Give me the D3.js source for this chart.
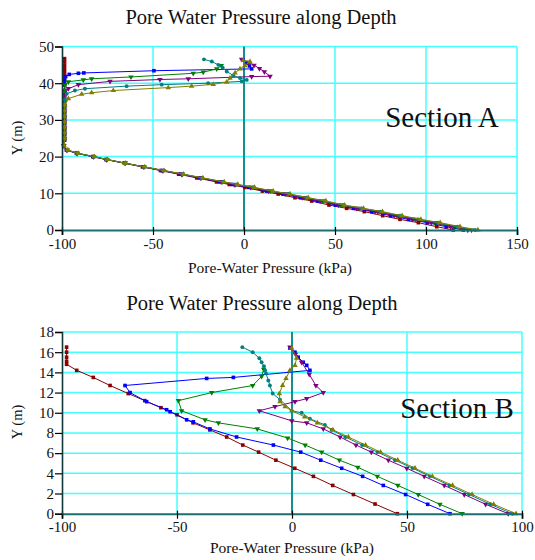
<!DOCTYPE html>
<html><head><meta charset="utf-8">
<script src="https://cdn.jsdelivr.net/npm/d3@7"></script>
<style>
body{margin:0;background:#fff}
text{font-family:"Liberation Serif","Times New Roman",serif;fill:#111}
</style>
</head><body>
<svg id="c" width="535" height="560"></svg>
<script>
// ---------------- DATA ----------------
const chartTitle = "Pore Water Pressure along Depth";
const xLabel = "Pore-Water Pressure (kPa)";
const yLabel = "Y (m)";
const seriesNames = ["S1","S2","S3","S4","S5","S6"];
const seriesColors = ["#8B0000","#0000FF","#008000","#800080","#008080","#808000"];
const seriesSymbols = ["square","square","triDown","triDown","circle","triUp"];

// Section A
const xTicksA = [-100,-50,0,50,100,150];
const yTicksA = [0,10,20,30,40,50];
const redA = [[-98.6,46.7],[-98.6,45.8],[-98.6,44.9],[-98.6,44],[-98.6,43.1],[-98.6,42.2],[-98.6,41.3],[-98.6,40.4],[-98.6,39.5],[-98.6,38],[-98.6,36.5],[-98.6,35],[-98.6,33.5],[-98.6,32],[-98.6,30.5],[-98.6,29],[-98.6,27.5],[-98.6,26],[-98.6,24.5],
 [-99,23],[-97.5,21.8],[-92,20.9],[-83,20],[-75.7,19.2],[-65.7,18.2],[-55.8,17.2],[-45.9,16.2],[-35.9,15.2],[-26,14.2],[-15.1,13.1],[-8.1,12.4],[0.5,11.6],[10.1,10.6],[18.8,9.8],[28,8.8],[37.2,7.9],[46.7,6.8],[56.4,5.9],[66.1,5.0],[76.2,3.9],[85.7,2.9],[95.8,2.0],[105.9,0.9],[115,0]];
const blueA = [[-0.5,46.3],[1.5,45.5],[3,44.7],[4.2,43.9],[-49.5,43.4],[-88,42.8],[-91,42.7],[-96,42.4],[-98,41.8],[-98.6,40.8],[-98.6,39.5],[-98.6,38],[-98.6,36.5],[-98.6,35],[-98.6,33.5],[-98.6,32],[-98.6,30.5],[-98.6,29],[-98.6,27.5],[-98.6,26],[-98.6,24.5],
 [-99,23],[-97.5,21.8],[-92,20.9],[-83,20],[-75.7,19.2],[-65.5,18.2],[-55.3,17.2],[-45.1,16.2],[-34.8,15.2],[-24.6,14.2],[-13.4,13.1],[-6.2,12.4],[2.6,11.6],[12.5,10.6],[21.4,9.8],[31,8.8],[40.4,7.9],[50.2,6.8],[60.2,5.9],[70.2,5.0],[80.5,3.9],[90.4,2.9],[100.7,2.0],[111.1,0.9],[120.5,0]];
const greenA = [[-12.5,44.8],[-15,43.9],[-22.4,43.0],[-27.9,42.7],[-62.1,41.7],[-83.7,41.2],[-88.3,40.9],[-96.5,40.4],[-98.4,39.5],[-98.6,38],[-98.6,36.5],[-98.6,35],[-98.6,33.5],[-98.6,32],[-98.6,30.5],[-98.6,29],[-98.6,27.5],[-98.6,26],[-98.6,24.5],
 [-99,23],[-97.2,21.8],[-91.6,20.9],[-82.6,20],[-75.3,19.2],[-65.3,18.2],[-54.9,17.2],[-44.4,16.2],[-33.9,15.2],[-23.5,14.2],[-12,13.1],[-4.6,12.4],[4.4,11.6],[14.5,10.6],[23.6,9.8],[33.4,8.8],[43,7.9],[53.1,6.8],[63.3,5.9],[73.5,5.0],[84.1,3.9],[94.2,2.9],[104.7,2.0],[115.4,0.9],[125,0]];
const purpleA = [[-1.3,46.5],[2.5,45.7],[5.5,44.9],[8.5,44.0],[11.2,43.1],[14.3,41.9],[4.2,41.8],[-30.6,41.2],[-46.2,41.0],[-73.6,40.5],[-91,39.6],[-96.5,38.5],[-98.6,37],[-98.6,35.5],[-98.6,34],[-98.6,32.5],[-98.6,31],[-98.6,29.5],[-98.6,28],[-98.6,26.5],[-98.6,25],
 [-99,23],[-97.3,21.8],[-91.8,20.9],[-82.8,20],[-75.5,19.2],[-65.4,18.2],[-55.1,17.2],[-44.7,16.2],[-34.3,15.2],[-24,14.2],[-12.6,13.1],[-5.3,12.4],[3.6,11.6],[13.6,10.6],[22.6,9.8],[32.3,8.8],[41.8,7.9],[51.8,6.8],[61.9,5.9],[72,5.0],[82.5,3.9],[92.5,2.9],[102.9,2.0],[113.5,0.9],[123,0]];
const tealA = [[-22,46.5],[-17.7,45.9],[-14.1,45.0],[-11.7,44.2],[-9.5,43.2],[-5.9,42.1],[-2.2,41.4],[1.5,40.9],[-1.3,40.5],[-19.7,40.0],[-45.2,39.6],[-64.5,39.2],[-87.4,38.5],[-92.9,38.0],[-97.4,37.1],[-98.6,35.5],[-98.6,34],[-98.6,32.5],[-98.6,31],[-98.6,29.5],[-98.6,28],[-98.6,26.5],[-98.6,25],
 [-99,23],[-97,21.8],[-91.4,20.9],[-82.4,20],[-75.1,19.2],[-65.2,18.2],[-54.7,17.2],[-44.1,16.2],[-33.5,15.2],[-23,14.2],[-11.4,13.1],[-3.9,12.4],[5.2,11.6],[15.4,10.6],[24.6,9.8],[34.5,8.8],[44.2,7.9],[54.4,6.8],[64.7,5.9],[75,5.0],[85.7,3.9],[95.9,2.9],[106.5,2.0],[117.3,0.9],[127,0]];
const oliveA = [[-0.4,46.2],[3.3,45.9],[0.5,44.8],[-2.2,43.9],[-4.9,42.8],[-7.7,41.4],[-9.5,40.3],[-16.9,39.7],[-28.8,39.2],[-41.6,38.8],[-71.8,38.0],[-83.7,37.4],[-89.2,37.0],[-96.5,35.8],[-98.4,34.0],[-98.6,32.5],[-98.6,31],[-98.6,29.5],[-98.6,28],[-98.6,26.5],[-98.6,25],
 [-98.8,23],[-96.8,21.8],[-91.2,20.9],[-82.2,20],[-75,19.2],[-65.2,18.2],[-54.6,17.2],[-43.9,16.2],[-33.2,15.2],[-22.6,14.2],[-10.9,13.1],[-3.4,12.4],[5.8,11.6],[16,10.6],[25.3,9.8],[35.3,8.8],[45,7.9],[55.3,6.8],[65.7,5.9],[76.1,5.0],[86.9,3.9],[97.2,2.9],[107.8,2.0],[118.7,0.9],[128.5,0]];

// Section B
const xTicksB = [-100,-50,0,50,100];
const yTicksB = [0,2,4,6,8,10,12,14,16,18];
const redB = [[-98,16.5],[-98,16.0],[-98,15.5],[-98,15.1],[-98,14.8],[-93.6,14.2],[-86.4,13.5],[-79.1,12.7],[-71.2,11.9],[-64,11.2],[-57,10.5],[-50,9.8],[-43,9.0],[-35.7,8.3],[-28.4,7.6],[-21.4,6.8],[-14.5,6.1],[-7,5.3],[1.2,4.5],[9.3,3.7],[17.7,2.8],[26.7,1.9],[36.1,0.96],[45.8,0]];
const blueB = [[-0.9,16.4],[1.3,16.0],[2.7,15.5],[4.9,15.0],[6.4,14.7],[7.8,14.2],[-25.5,13.5],[-37.1,13.4],[-72.6,12.7],[-70.4,12.0],[-63.2,11.1],[-54.5,10.3],[-53,10.1],[-45.8,9.3],[-42.9,9.1],[-35.7,8.4],[-24.1,7.6],[-8.1,6.8],[3.8,6.1],[12.5,5.3],[21.6,4.5],[30.7,3.7],[39.7,2.8],[49.4,1.9],[59,0.93],[68.7,0]];
const greenB = [[-12.3,14.3],[-13.2,13.6],[-17.1,12.7],[-34.9,12.0],[-49.4,11.2],[-48,10.2],[-37.8,9.3],[-32,9.0],[-15.1,8.4],[-1.9,7.5],[5.7,6.8],[12.9,6.1],[20.6,5.3],[28.6,4.6],[37.1,3.7],[46,2.8],[54.9,1.9],[64.3,0.93],[74,0]];
const purpleB = [[-0.9,16.5],[1.5,15.8],[4.2,15.0],[7.5,13.8],[10.4,12.7],[13.6,12.0],[6.4,11.4],[1.3,11.1],[-7.4,10.6],[-14.2,10.2],[-0.1,9.2],[6.4,9.0],[13.6,8.4],[20.9,7.6],[27.8,6.8],[34.5,6.1],[41.9,5.3],[49.9,4.5],[57.5,3.7],[66.2,2.8],[74.9,1.9],[84.2,0.93],[94.0,0]];
const tealB = [[-21.6,16.5],[-17.1,16.0],[-14.2,15.4],[-13.2,15.0],[-12.2,14.6],[-11.7,14.2],[-11.3,13.9],[-10.3,13.2],[-9.6,12.7],[-8.4,11.9],[-5.2,11.3],[-0.1,10.2],[4.2,10.0],[7.8,9.4],[14.3,8.8],[17.2,8.3],[23.2,7.6],[30.5,6.8],[37.2,6.1],[44.8,5.3],[52.5,4.5],[60,3.7],[68.5,2.8],[77,1.9],[86.2,0.93],[95.8,0]];
const oliveB = [[-0.1,16.4],[2,15.4],[1.3,14.7],[-0.9,14.2],[-2.6,13.4],[-4.1,12.7],[-5.5,11.9],[-5.2,11.1],[-3,10.6],[-0.1,10.2],[5.5,9.6],[11,9.0],[17.8,8.3],[24.5,7.6],[32,6.8],[38.5,6.1],[46,5.3],[53.5,4.5],[61,3.7],[69.8,2.8],[78.3,1.9],[87.7,0.93],[97.4,0]];

// ---------------- DRAW ----------------
const svg = d3.select("#c");
svg.append("rect").attr("width",535).attr("height",560).attr("fill","#fff");

const symMap = {
  square: d3.symbol().type(d3.symbolSquare).size(13),
  circle: d3.symbol().type(d3.symbolCircle).size(12),
  triUp: d3.symbol().type(d3.symbolTriangle).size(13),
  triDown: d3.symbol().type(d3.symbolTriangle).size(13)
};
const fmt = d => String(d);

function panel(cfg){
  const g = svg.append("g");
  const x = d3.scaleLinear().domain(cfg.xDomain).range(cfg.xRange);
  const y = d3.scaleLinear().domain(cfg.yDomain).range(cfg.yRange);
  const [x0,x1] = cfg.xRange, [y0,y1] = cfg.yRange;

  // grid
  const grid = g.append("g").attr("stroke","#4ff").attr("stroke-width",1.5);
  cfg.xTicks.filter(v=>v!==cfg.xDomain[0] && v!==0).forEach(v=>{
    grid.append("line").attr("x1",x(v)).attr("x2",x(v)).attr("y1",y0).attr("y2",y1);
  });
  cfg.yTicks.filter(v=>v!==cfg.yDomain[0]).forEach(v=>{
    grid.append("line").attr("x1",x0).attr("x2",x1).attr("y1",y(v)).attr("y2",y(v));
  });
  // zero line
  g.append("line").attr("x1",x(0)).attr("x2",x(0)).attr("y1",y0).attr("y2",y1)
    .attr("stroke","#139090").attr("stroke-width",2);

  // series
  const line = d3.line().x(d=>x(d[0])).y(d=>y(d[1]));
  cfg.series.forEach((s,i)=>{
    const c = seriesColors[i];
    g.append("path").datum(s).attr("d",line).attr("fill","none").attr("stroke",c).attr("stroke-width",1);
    const sym = seriesSymbols[i];
    g.append("g").selectAll("path").data(s).join("path")
      .attr("d",symMap[sym])
      .attr("transform",d=>`translate(${x(d[0])},${y(d[1])})${sym==="triDown"?" rotate(180)":""}`)
      .attr("fill",c);
  });

  // axes
  const ax = g.append("g").attr("transform",`translate(0,${y0})`)
    .call(d3.axisBottom(x).tickValues(cfg.xTicks).tickSize(5).tickPadding(3).tickFormat(fmt));
  ax.select(".domain").attr("stroke","#1a7070").attr("stroke-width",2);
  ax.selectAll(".tick line").attr("stroke","#000").attr("y1",-3).attr("stroke-width",1.2);
  ax.selectAll("text").attr("font-size",15).attr("font-family","Liberation Serif").attr("fill","#111");

  const ay = g.append("g").attr("transform",`translate(${x0},0)`)
    .call(d3.axisLeft(y).tickValues(cfg.yTicks).tickSize(7).tickPadding(1).tickFormat(fmt));
  ay.select(".domain").attr("stroke","#103838").attr("stroke-width",1.6);
  ay.selectAll(".tick line").attr("stroke","#000").attr("stroke-width",1.2);
  ay.selectAll("text").attr("font-size",15).attr("font-family","Liberation Serif").attr("fill","#111");

  // texts
  g.append("text").attr("x",cfg.titleX).attr("y",cfg.titleY).attr("text-anchor","middle")
    .attr("font-size",20.5).text(chartTitle);
  g.append("text").attr("x",cfg.xLabX).attr("y",cfg.xLabY).attr("text-anchor","middle")
    .attr("font-size",15.5).text(xLabel);
  g.append("text").attr("transform",`translate(${cfg.yLabX},${cfg.yLabY}) rotate(-90)`).attr("text-anchor","middle")
    .attr("font-size",14.5).text(yLabel);
  g.append("text").attr("x",cfg.secX).attr("y",cfg.secY).attr("text-anchor","middle")
    .attr("font-size",29).text(cfg.section);
}

panel({xDomain:[-100,150], yDomain:[0,50], xRange:[62,517], yRange:[230,46.5],
  xTicks:xTicksA, yTicks:yTicksA, series:[redA,blueA,greenA,purpleA,tealA,oliveA],
  titleX:261, titleY:24, xLabX:270, xLabY:273, yLabX:22, yLabY:138,
  secX:442, secY:127, section:"Section A"});

panel({xDomain:[-100,100], yDomain:[0,18], xRange:[62,522], yRange:[513.7,332],
  xTicks:xTicksB, yTicks:yTicksB, series:[redB,blueB,greenB,purpleB,tealB,oliveB],
  titleX:262, titleY:310, xLabX:292, xLabY:553, yLabX:22, yLabY:422,
  secX:457, secY:418, section:"Section B"});
</script>
</body></html>
